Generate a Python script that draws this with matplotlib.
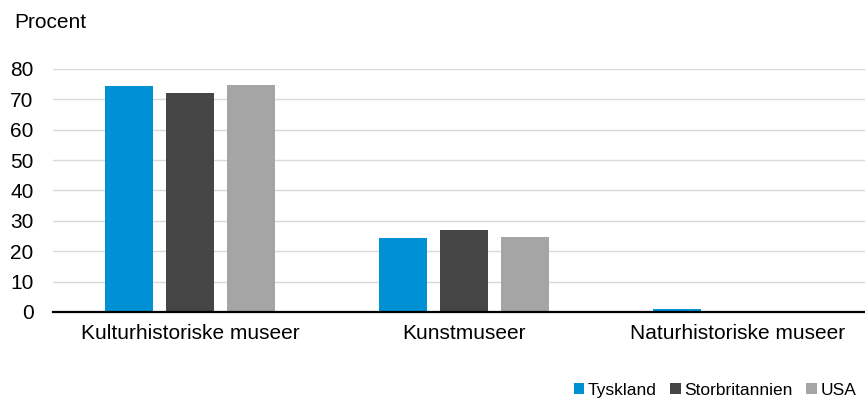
import matplotlib.pyplot as plt
import numpy as np

plt.rcParams['font.family'] = ['Liberation Sans', 'DejaVu Sans']

categories = ['Kulturhistoriske museer', 'Kunstmuseer', 'Naturhistoriske museer']
series_names = ['Tyskland', 'Storbritannien', 'USA']
tyskland = [74.3, 24.3, 1.0]
storbritannien = [72.1, 27.0, 0.4]
usa = [74.8, 24.7, 0.0]
colors = ['#0091D5', '#454545', '#A5A5A5']

fig = plt.figure(figsize=(8.65, 4.01), dpi=100)
# plot area runs slightly past the right edge, as in the original
ax = fig.add_axes([0.0613, 0.222, 0.950, 0.606])

x = np.arange(len(categories))
width = 0.175
step = 0.222
for i, (vals, name) in enumerate(zip([tyskland, storbritannien, usa], series_names)):
    ax.bar(x + (i - 1) * step, vals, width, color=colors[i], label=name, zorder=3)

ax.set_xlim(-0.5, 2.5)
ax.set_ylim(0, 80)
ax.set_yticks(range(0, 81, 10))
ax.set_xticks(x)
ax.set_xticklabels(categories)
ax.tick_params(axis='both', length=0, labelsize=15, colors='#000000')
ax.tick_params(axis='x', pad=9)
ax.tick_params(axis='y', pad=14)
ax.grid(axis='y', color='#d9d9d9', linewidth=1, zorder=0)
for s in ['top', 'right', 'left']:
    ax.spines[s].set_visible(False)
ax.spines['bottom'].set_color('#000000')
ax.spines['bottom'].set_linewidth(1.6)
ax.spines['bottom'].set_zorder(4)

fig.text(0.058, 0.945, 'Procent', fontsize=15, ha='center', va='center')

fig.legend(loc='center left', bbox_to_anchor=(0.655, 0.027), ncol=3, frameon=False,
           fontsize=12.5, handlelength=0.6, handleheight=0.6, handletextpad=0.2,
           columnspacing=0.8, borderaxespad=0)

fig.savefig('out.png', dpi=100)
